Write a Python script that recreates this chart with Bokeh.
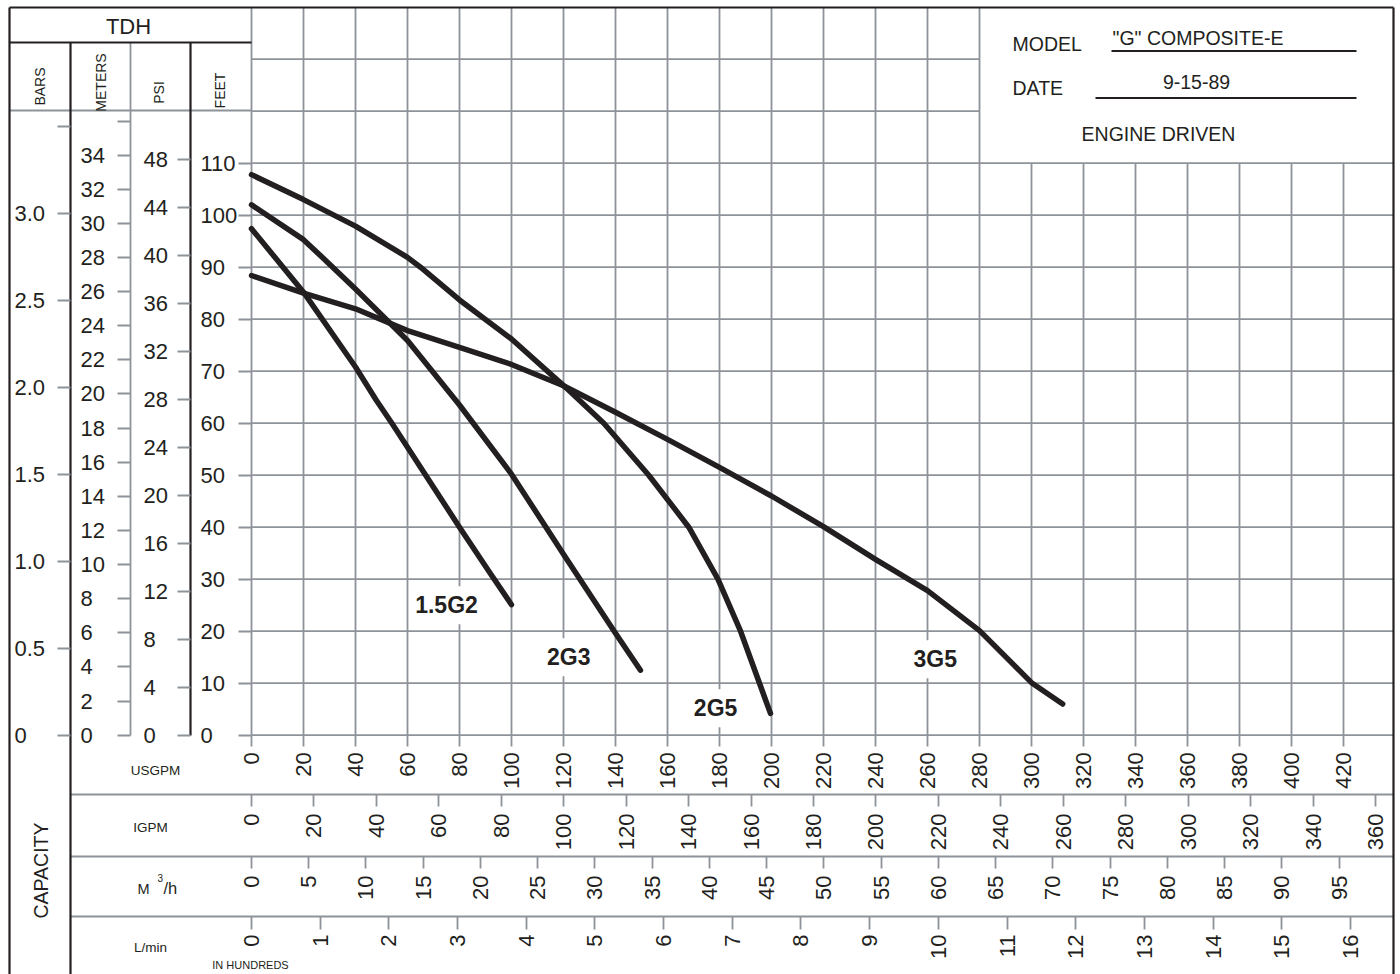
import math
from bokeh.plotting import figure
from bokeh.models import Range1d, LinearAxis, FixedTicker, Label
from bokeh.embed import file_html
from bokeh.resources import INLINE

# ---------------- data ----------------
CURVE_NAMES = ["1.5G2", "2G3", "2G5", "3G5"]

GPM_1_5G2 = [0, 20, 40, 48, 54, 67, 80, 92, 100]
FT_1_5G2 = [97.4, 85.2, 70.8, 64.4, 60.0, 50.0, 40.0, 31.0, 25.1]

GPM_2G3 = [0, 20, 27, 40, 60, 80, 100, 120, 140, 149.6]
FT_2G3 = [102.0, 95.3, 92.0, 85.8, 75.9, 63.5, 50.2, 34.8, 19.6, 12.5]

GPM_2G5 = [0, 20, 40, 60, 65, 80, 100, 121, 135.5, 152.8, 168.2, 179.4, 188.1, 199.6]
FT_2G5 = [107.8, 103.0, 97.9, 91.9, 90.0, 83.7, 76.2, 66.8, 60.0, 50.0, 40.0, 30.0, 20.0, 4.2]

GPM_3G5 = [0, 20, 40, 60, 80, 100, 120, 140, 160, 180, 200, 220, 240, 260, 280, 300, 312]
FT_3G5 = [88.4, 85.0, 82.0, 77.8, 74.6, 71.3, 67.2, 62.1, 56.9, 51.5, 46.0, 40.1, 33.8, 27.8, 20.1, 10.1, 6.0]

FEET_TICKS = [0, 10, 20, 30, 40, 50, 60, 70, 80, 90, 100, 110]
PSI_TICKS = [0, 4, 8, 12, 16, 20, 24, 28, 32, 36, 40, 44, 48]
METER_TICKS = [0, 2, 4, 6, 8, 10, 12, 14, 16, 18, 20, 22, 24, 26, 28, 30, 32, 34, 36]
METER_LABELS = [0, 2, 4, 6, 8, 10, 12, 14, 16, 18, 20, 22, 24, 26, 28, 30, 32, 34]
BAR_TICKS = [0, 0.5, 1.0, 1.5, 2.0, 2.5, 3.0, 3.5]
BAR_LABEL_VALUES = [0, 0.5, 1.0, 1.5, 2.0, 2.5, 3.0]
BAR_LABELS = ["0", "0.5", "1.0", "1.5", "2.0", "2.5", "3.0"]

USGPM_TICKS = [0, 20, 40, 60, 80, 100, 120, 140, 160, 180, 200, 220, 240, 260, 280, 300,
               320, 340, 360, 380, 400, 420]
IGPM_TICKS = [0, 20, 40, 60, 80, 100, 120, 140, 160, 180, 200, 220, 240, 260, 280, 300,
              320, 340, 360]
M3H_TICKS = [0, 5, 10, 15, 20, 25, 30, 35, 40, 45, 50, 55, 60, 65, 70, 75, 80, 85, 90, 95]
LMIN_TICKS = [0, 1, 2, 3, 4, 5, 6, 7, 8, 9, 10, 11, 12, 13, 14, 15, 16]

GRID_GPM = USGPM_TICKS
GRID_FT = [0, 10, 20, 30, 40, 50, 60, 70, 80, 90, 100, 110, 120, 130]

# unit conversions
FT_PER_BAR = 33.4552
FT_PER_M = 3.28084
FT_PER_PSI = 2.30666
USGPM_PER_IGPM = 1.200950
USGPM_PER_M3H = 4.402868
USGPM_PER_100LMIN = 26.41721

# ---------------- layout ----------------
W, H = 1400, 974
PAGE = 0
X0, SX = 251.0, 2.6      # image px of 0 USGPM, px per USGPM
Y0, SY = 734.7, 5.2      # image px of 0 ft, px per ft


def gx(px):
    return (px - X0) / SX


def fy(py):
    return (Y0 - py) / SY


XS, XE = gx(PAGE), gx(PAGE + W)
YS, YE = fy(PAGE + H), fy(PAGE)

FONT = "Liberation Sans"
INK = "#231f20"
GRID_C = "#8d9399"
BOX_GPM, BOX_FT = 280, 110

L_EDGE, R_EDGE, T_EDGE, B_EDGE = 9, 1393, 7, 974

p = figure(width=W, height=H, x_range=Range1d(XS, XE), y_range=Range1d(YS, YE),
           output_backend="svg", toolbar_location=None, min_border=0,
           x_axis_type=None, y_axis_type=None)
p.outline_line_color = None
p.background_fill_color = "white"
p.border_fill_color = "white"

p.extra_y_ranges = {
    "bar": Range1d(YS / FT_PER_BAR, YE / FT_PER_BAR),
    "m": Range1d(YS / FT_PER_M, YE / FT_PER_M),
    "psi": Range1d(YS / FT_PER_PSI, YE / FT_PER_PSI),
}
p.extra_x_ranges = {
    "igpm": Range1d(XS / USGPM_PER_IGPM, XE / USGPM_PER_IGPM),
    "m3h": Range1d(XS / USGPM_PER_M3H, XE / USGPM_PER_M3H),
    "lmin": Range1d(XS / USGPM_PER_100LMIN, XE / USGPM_PER_100LMIN),
}

# ---------------- grid ----------------
vx0, vy0, vx1, vy1 = [], [], [], []
for g in GRID_GPM:
    vx0.append(g); vx1.append(g); vy0.append(0)
    vy1.append(fy(T_EDGE) if g <= BOX_GPM else BOX_FT)
p.segment(vx0, vy0, vx1, vy1, line_color=GRID_C, line_width=1.8)

hx0, hy0, hx1, hy1 = [], [], [], []
for h in GRID_FT:
    hx0.append(0); hy0.append(h); hy1.append(h)
    hx1.append(gx(R_EDGE) if h <= BOX_FT else BOX_GPM)
p.segment(hx0, hy0, hx1, hy1, line_color=GRID_C, line_width=1.8)

# gray frame lines (header bottom, meters column, capacity rows)
gray_lines = [
    (L_EDGE, 110, 251, 110),
    (130, 42, 130, 735),
    (70, 794, R_EDGE, 794),
    (70, 856, R_EDGE, 856),
    (70, 916, R_EDGE, 916),
]
p.segment([gx(a[0]) for a in gray_lines], [fy(a[1]) for a in gray_lines],
          [gx(a[2]) for a in gray_lines], [fy(a[3]) for a in gray_lines],
          line_color=GRID_C, line_width=1.8)

# dark frame lines
dark_lines = [
    (L_EDGE, T_EDGE, R_EDGE, T_EDGE),
    (L_EDGE, T_EDGE, L_EDGE, B_EDGE),
    (R_EDGE, T_EDGE, R_EDGE, B_EDGE),
    (L_EDGE, 42, 251, 42),
    (70, 42, 70, B_EDGE),
    (190, 42, 190, 735),
]
p.segment([gx(a[0]) for a in dark_lines], [fy(a[1]) for a in dark_lines],
          [gx(a[2]) for a in dark_lines], [fy(a[3]) for a in dark_lines],
          line_color=INK, line_width=2.2)

# underlines in the model box
p.segment([gx(1111), gx(1095)], [fy(50.5), fy(97.5)], [gx(1356), gx(1356)], [fy(50.5), fy(97.5)],
          line_color=INK, line_width=1.8)

# ---------------- curves ----------------
for gpm, ft in [(GPM_1_5G2, FT_1_5G2), (GPM_2G3, FT_2G3), (GPM_2G5, FT_2G5), (GPM_3G5, FT_3G5)]:
    p.line(gpm, ft, line_color=INK, line_width=5.5, line_cap="round", line_join="round")

# ---------------- axes ----------------
def tick_axis_left(ticks, loc_px, rng=None):
    kw = dict(ticker=FixedTicker(ticks=ticks), fixed_location=gx(loc_px),
              axis_line_color=None, major_tick_in=0, major_tick_out=13,
              minor_tick_in=0, minor_tick_out=0, major_tick_line_color=GRID_C,
              major_tick_line_width=1.8, major_label_text_color=None,
              major_label_overrides={t: "" for t in ticks})
    if rng:
        kw["y_range_name"] = rng
    p.add_layout(LinearAxis(**kw), "left")


def label_axis_right(values, labels, loc_px, rng=None):
    kw = dict(ticker=FixedTicker(ticks=values), fixed_location=gx(loc_px),
              axis_line_color=None, major_tick_in=0, major_tick_out=0,
              minor_tick_in=0, minor_tick_out=0, major_tick_line_color=None,
              major_label_standoff=0, major_label_text_font=FONT,
              major_label_text_font_size="22px", major_label_text_color=INK,
              major_label_overrides={v: s for v, s in zip(values, labels)})
    if rng:
        kw["y_range_name"] = rng
    p.add_layout(LinearAxis(**kw), "right")


tick_axis_left(BAR_TICKS, 70, "bar")
tick_axis_left(METER_TICKS, 130, "m")
tick_axis_left(PSI_TICKS, 190, "psi")
tick_axis_left(FEET_TICKS, X0)

label_axis_right(BAR_LABEL_VALUES, BAR_LABELS, 14, "bar")
label_axis_right(METER_LABELS, [str(v) for v in METER_LABELS], 80, "m")
label_axis_right(PSI_TICKS, [str(v) for v in PSI_TICKS], 143, "psi")
label_axis_right(FEET_TICKS, [str(v) for v in FEET_TICKS], 200)


def bottom_axis(ticks, loc_py, rng=None, tick_len=12, standoff=7):
    kw = dict(ticker=FixedTicker(ticks=ticks), fixed_location=fy(loc_py),
              axis_line_color=None, major_tick_in=0, major_tick_out=tick_len,
              minor_tick_in=0, minor_tick_out=0, major_tick_line_color=GRID_C,
              major_tick_line_width=1.8, major_label_standoff=standoff,
              major_label_orientation=math.pi / 2, major_label_text_font=FONT,
              major_label_text_font_size="22px", major_label_text_color=INK)
    if rng:
        kw["x_range_name"] = rng
    p.add_layout(LinearAxis(**kw), "below")


bottom_axis(USGPM_TICKS, Y0, None, 11, 6)
bottom_axis(IGPM_TICKS, 794, "igpm")
bottom_axis(M3H_TICKS, 856, "m3h")
bottom_axis(LMIN_TICKS, 916, "lmin", 13, 5)

# ---------------- texts ----------------
def txt(s, px, py, size, align="left", angle=0.0, style="normal"):
    lab = Label(x=gx(px), y=fy(py), text=s, text_font=FONT, text_font_size=f"{size}px",
                text_color=INK, text_align=align, text_baseline="middle", angle=angle,
                text_font_style=style)
    p.add_layout(lab)


txt("TDH", 128, 26, 22, "center")
txt("BARS", 39.5, 86, 14, "center", math.pi / 2)
txt("METERS", 100, 82, 14, "center", math.pi / 2)
txt("PSI", 158, 92, 14, "center", math.pi / 2)
txt("FEET", 219, 90, 14, "center", math.pi / 2)

txt("USGPM", 155, 770, 13.5, "center")
txt("IGPM", 150, 827, 13.5, "center")
txt("M", 137, 888, 14.5, "left")
txt("3", 157, 877, 10, "left")
txt("/h", 163, 887, 16.5, "left")
txt("L/min", 150, 947, 13.5, "center")
txt("IN HUNDREDS", 250, 964, 11, "center")
txt("CAPACITY", 40, 870, 19.5, "center", math.pi / 2)

txt("MODEL", 1012, 43, 19.5, "left")
txt("\"G\" COMPOSITE-E", 1112, 37.5, 19.5, "left")
txt("DATE", 1012, 87, 19.5, "left")
txt("9-15-89", 1196, 81.5, 19.5, "center")
txt("ENGINE DRIVEN", 1158, 133.5, 19.5, "center")

# curve labels (positions in chart units: USGPM, feet)
CURVE_LABEL_POS = [(75.0, 25.0), (122.0, 15.0), (178.5, 5.2), (263.0, 14.6)]
for name, (lx, ly) in zip(CURVE_NAMES, CURVE_LABEL_POS):
    lab = Label(x=lx, y=ly, text=name, text_font=FONT, text_font_size="23px",
                text_font_style="bold", text_color=INK, text_align="center",
                text_baseline="middle", background_fill_color="white", padding=6)
    p.add_layout(lab)

open("out.html", "w").write(file_html(p, INLINE))
